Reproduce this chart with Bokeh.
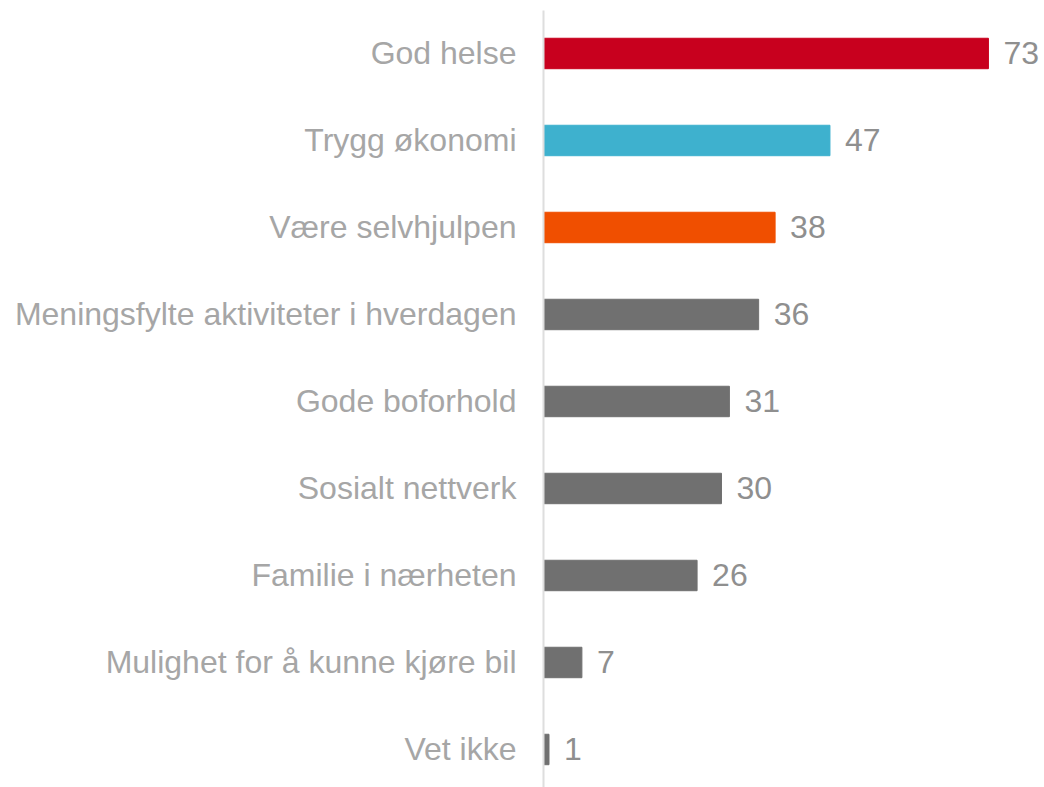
from bokeh.plotting import figure
from bokeh.models import Range1d, FixedTicker, ColumnDataSource
from bokeh.core.properties import value
from bokeh.embed import file_html
from bokeh.resources import INLINE

categories = ["God helse", "Trygg økonomi", "Være selvhjulpen",
              "Meningsfylte aktiviteter i hverdagen", "Gode boforhold",
              "Sosialt nettverk", "Familie i nærheten",
              "Mulighet for å kunne kjøre bil", "Vet ikke"]
# bar lengths; labels as printed
values = [73, 47, 38, 35.3, 30.5, 29.2, 25.2, 6.3, 0.9]
labels = ["73", "47", "38", "36", "31", "30", "26", "7", "1"]
colors = ["#c8001e", "#3eb1ce", "#f04f00", "#707070", "#707070",
          "#707070", "#707070", "#707070", "#707070"]

n = len(categories)
ypos = [n - 1 - i for i in range(n)]

src = ColumnDataSource(dict(y=ypos, v=values, c=colors, t=labels))

p = figure(width=1044, height=787, output_backend="svg", toolbar_location=None,
           x_range=Range1d(0, 82.2), y_range=Range1d(-0.437, 8.494),
           min_border_left=543, min_border_right=0, min_border_top=10,
           min_border_bottom=0)
p.outline_line_color = None
p.grid.visible = False
p.xaxis.visible = False
p.background_fill_color = "white"
p.border_fill_color = "white"

p.hbar(y="y", right="v", left=0, height=0.35, color="c", source=src)
p.text(x="v", y="y", text="t", x_offset=15, text_baseline="middle",
       text_align="left", text_font=value("Liberation Sans"),
       text_font_size="32px", text_color="#8f8f8f", source=src)

ax = p.yaxis[0]
ax.ticker = FixedTicker(ticks=ypos)
ax.major_label_overrides = {yy: c for yy, c in zip(ypos, categories)}
ax.axis_line_color = "#dedede"
ax.axis_line_width = 2
ax.major_tick_line_color = None
ax.minor_tick_line_color = None
ax.major_tick_out = 0
ax.major_tick_in = 0
ax.major_label_standoff = 27
ax.major_label_text_font = "Liberation Sans"
ax.major_label_text_font_size = "32px"
ax.major_label_text_color = "#a6a6a6"

open("out.html", "w").write(file_html(p, INLINE))
